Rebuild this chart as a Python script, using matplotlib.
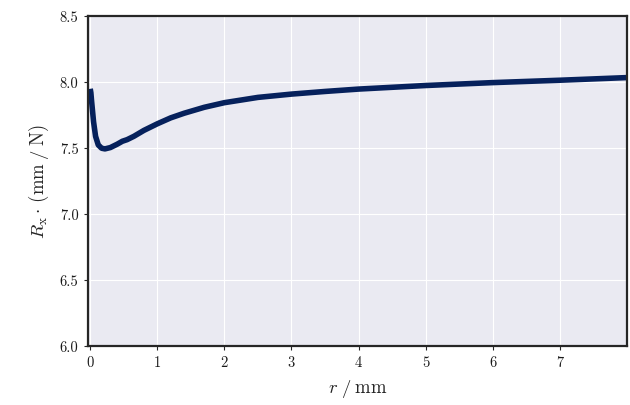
import numpy as np
import matplotlib
matplotlib.use("Agg")
import matplotlib.pyplot as plt
import seaborn as sns

# curve
r = [0.0, 0.01, 0.02, 0.035, 0.05, 0.08, 0.12, 0.17, 0.22, 0.3, 0.4, 0.48, 0.55,
     0.65, 0.8, 1.0, 1.2, 1.4, 1.7, 2.0, 2.5, 3.0, 3.5, 4.0, 5.0, 6.0, 7.0, 8.0]
R = [7.95, 7.92, 7.86, 7.78, 7.70, 7.59, 7.525, 7.50, 7.495, 7.505, 7.53, 7.553, 7.565,
     7.59, 7.635, 7.685, 7.73, 7.765, 7.81, 7.845, 7.885, 7.91, 7.93, 7.948, 7.975,
     7.997, 8.015, 8.035]

sns.set_style("darkgrid")
plt.rcParams["font.family"] = "serif"
plt.rcParams["font.serif"] = ["cmr10", "DejaVu Serif"]
plt.rcParams["mathtext.fontset"] = "cm"
plt.rcParams["axes.formatter.use_mathtext"] = True

fig, ax = plt.subplots(figsize=(6.3, 4.05), dpi=100)
fig.subplots_adjust(left=0.14, right=0.995, top=0.96, bottom=0.145)

ax.plot(r, R, color="#06215c", linewidth=4, solid_capstyle="butt")

ax.set_xlim(-0.03, 8.0)
ax.set_ylim(6.0, 8.5)
ax.set_xticks(range(0, 8))
ax.set_yticks([6.0, 6.5, 7.0, 7.5, 8.0, 8.5])
ax.set_xticklabels([str(i) for i in range(0, 8)])
ax.set_yticklabels(["6.0", "6.5", "7.0", "7.5", "8.0", "8.5"])
ax.tick_params(labelsize=10.5, length=3, color="#262626", labelcolor="#1a1a1a",
               direction="out", bottom=True, left=True, pad=4)

for s in ax.spines.values():
    s.set_visible(True)
    s.set_color("#262626")
    s.set_linewidth(1.6)

ax.set_xlabel(r"$r\;/\;\mathrm{mm}$", fontsize=13.5, labelpad=6)
ax.set_ylabel(r"$R_\mathrm{x}\cdot\,(\mathrm{mm}\;/\;\mathrm{N})$", fontsize=13.5, labelpad=6)

fig.savefig("out.png", dpi=100)
